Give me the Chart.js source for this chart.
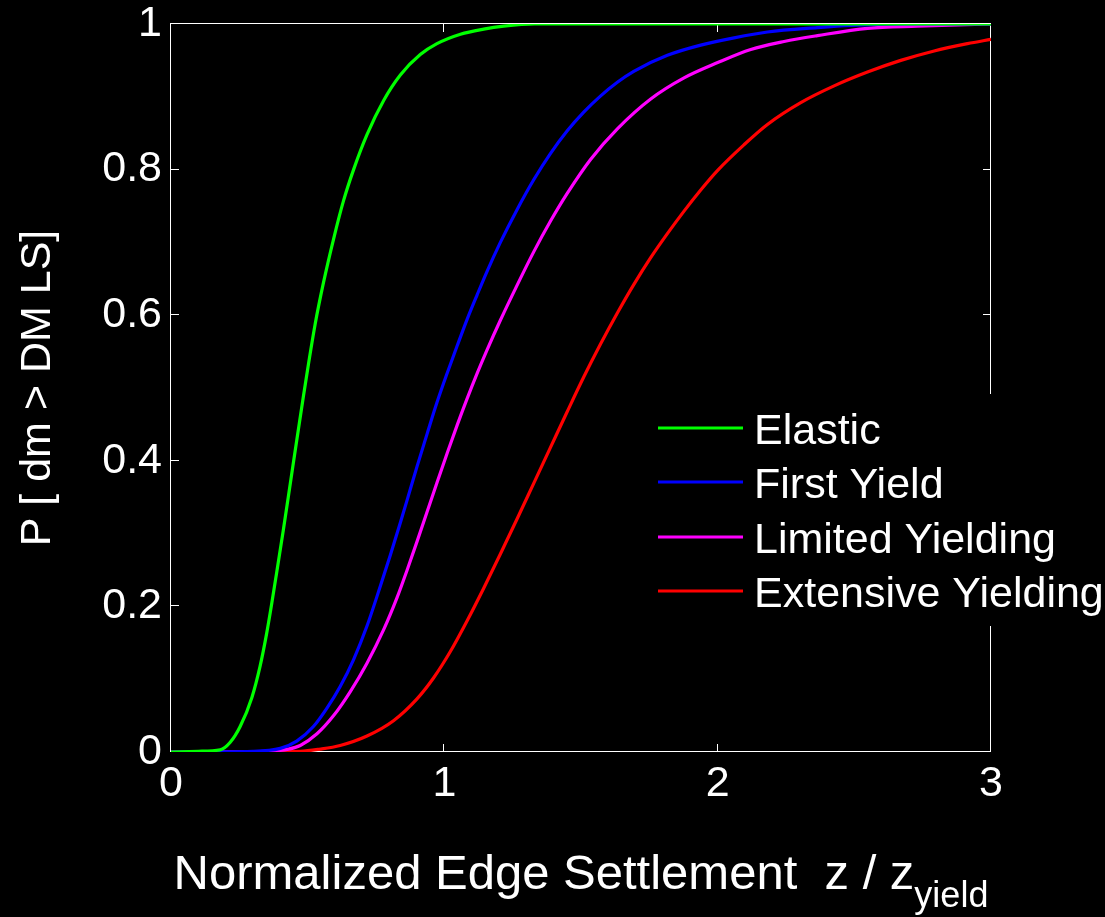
<!DOCTYPE html>
<html>
<head>
<meta charset="utf-8">
<script src="https://cdn.jsdelivr.net/npm/chart.js@4.4.1/dist/chart.umd.min.js"></script>
<style>
  html, body { margin: 0; padding: 0; background: #000; overflow: hidden; }
  #wrap { position: relative; width: 1105px; height: 917px; }
</style>
</head>
<body>
<div id="wrap"><canvas id="c" width="1105" height="917"></canvas></div>
<script>
// Exceedance probability curves for each damage limit state
const seriesNames = ['Elastic', 'First Yield', 'Limited Yielding', 'Extensive Yielding'];
const seriesColors = ['#00ff00', '#0000ff', '#ff00ff', '#ff0000'];

const elasticX = [0, 0.10, 0.18, 0.216, 0.253, 0.296, 0.326, 0.35, 0.369, 0.386, 0.411, 0.429, 0.448, 0.466, 0.485, 0.503, 0.527, 0.558, 0.595, 0.631, 0.668, 0.717, 0.778, 0.839, 0.912, 0.973, 1.059, 1.144, 1.217, 1.33, 3.0];
const elasticY = [0, 0.001, 0.003, 0.013, 0.035, 0.075, 0.118, 0.163, 0.205, 0.245, 0.305, 0.35, 0.398, 0.443, 0.49, 0.533, 0.587, 0.645, 0.705, 0.757, 0.80, 0.848, 0.895, 0.93, 0.958, 0.973, 0.986, 0.993, 0.997, 1.0, 1.0];

const firstYieldX = [0, 0.30, 0.40, 0.46, 0.521, 0.57, 0.619, 0.668, 0.717, 0.766, 0.802, 0.839, 0.863, 0.90, 0.937, 0.973, 1.01, 1.047, 1.083, 1.12, 1.156, 1.205, 1.266, 1.327, 1.388, 1.449, 1.51, 1.571, 1.633, 1.693, 1.816, 1.938, 2.06, 2.182, 2.365, 2.487, 2.73, 3.0];
const firstYieldY = [0, 0.001, 0.005, 0.015, 0.035, 0.06, 0.09, 0.127, 0.173, 0.228, 0.27, 0.315, 0.345, 0.392, 0.437, 0.48, 0.52, 0.558, 0.594, 0.628, 0.66, 0.70, 0.745, 0.786, 0.822, 0.853, 0.879, 0.901, 0.92, 0.935, 0.957, 0.971, 0.981, 0.989, 0.995, 0.998, 1.0, 1.0];

const limitedX = [0, 0.35, 0.43, 0.473, 0.534, 0.595, 0.656, 0.717, 0.778, 0.827, 0.863, 0.90, 0.937, 0.973, 1.01, 1.047, 1.083, 1.12, 1.156, 1.205, 1.266, 1.327, 1.388, 1.449, 1.535, 1.633, 1.755, 1.877, 2.0, 2.121, 2.243, 2.365, 2.548, 2.73, 3.0];
const limitedY = [0, 0.001, 0.004, 0.009, 0.025, 0.05, 0.083, 0.122, 0.168, 0.212, 0.249, 0.289, 0.33, 0.37, 0.41, 0.449, 0.485, 0.52, 0.552, 0.593, 0.641, 0.687, 0.729, 0.767, 0.814, 0.856, 0.897, 0.926, 0.947, 0.965, 0.976, 0.984, 0.994, 0.997, 1.0];

const extensiveX = [0, 0.473, 0.546, 0.619, 0.717, 0.814, 0.90, 0.961, 1.022, 1.083, 1.144, 1.205, 1.266, 1.327, 1.388, 1.449, 1.51, 1.571, 1.633, 1.693, 1.755, 1.816, 1.877, 1.938, 2.0, 2.096, 2.182, 2.304, 2.426, 2.548, 2.67, 2.792, 2.914, 3.0];
const extensiveY = [0, 0.001, 0.004, 0.009, 0.022, 0.043, 0.073, 0.102, 0.138, 0.18, 0.225, 0.272, 0.32, 0.369, 0.418, 0.467, 0.515, 0.56, 0.603, 0.642, 0.679, 0.712, 0.743, 0.772, 0.799, 0.834, 0.862, 0.892, 0.915, 0.934, 0.95, 0.963, 0.973, 0.979];

const xTicks = [0, 1, 2, 3];
const xTickLabels = ['0', '1', '2', '3'];
const yTicks = [0, 0.2, 0.4, 0.6, 0.8, 1];
const yTickLabels = ['0', '0.2', '0.4', '0.6', '0.8', '1'];

const xTitleMain = 'Normalized Edge Settlement  z / z';
const xTitleSub = 'yield';
const yTitle = 'P [ dm > DM LS]';

const FONT = "'Liberation Sans', Arial, Helvetica, sans-serif";

function pairs(xs, ys) { return xs.map((x, i) => ({ x: x, y: ys[i] })); }

const seriesData = [
  pairs(elasticX, elasticY),
  pairs(firstYieldX, firstYieldY),
  pairs(limitedX, limitedY),
  pairs(extensiveX, extensiveY)
];

// Black page background
const backdrop = {
  id: 'backdrop',
  beforeDraw(chart) {
    const ctx = chart.ctx;
    ctx.save();
    ctx.fillStyle = '#000';
    ctx.fillRect(0, 0, chart.width, chart.height);
    ctx.restore();
  }
};

// Box around the axes with inward tick marks on all four sides
const axesBox = {
  id: 'axesBox',
  beforeDatasetsDraw(chart) {
    const { ctx, chartArea: a, scales } = chart;
    const len = 8;
    ctx.save();
    ctx.strokeStyle = '#fff';
    ctx.lineWidth = 1;
    ctx.strokeRect(a.left - 0.5, a.top - 0.5, a.right - a.left, a.bottom - a.top);
    ctx.beginPath();
    xTicks.forEach(v => {
      const px = Math.round(scales.x.getPixelForValue(v)) - 0.5;
      ctx.moveTo(px, a.bottom); ctx.lineTo(px, a.bottom - len);
      ctx.moveTo(px, a.top); ctx.lineTo(px, a.top + len);
    });
    yTicks.forEach(v => {
      const py = Math.round(scales.y.getPixelForValue(v)) - 0.5;
      ctx.moveTo(a.left, py); ctx.lineTo(a.left + len, py);
      ctx.moveTo(a.right, py); ctx.lineTo(a.right - len, py);
    });
    ctx.stroke();
    ctx.restore();
  }
};

// Legend box over the right edge, plus the x-axis title with its subscript
const overlay = {
  id: 'overlay',
  afterDraw(chart) {
    const { ctx, chartArea: a } = chart;
    ctx.save();
    // legend
    ctx.fillStyle = '#000';
    ctx.fillRect(645, 394, 460, 232);
    const rowY = [428, 482, 537, 591];
    ctx.lineWidth = 3;
    ctx.font = '43px ' + FONT;
    ctx.textBaseline = 'alphabetic';
    ctx.textAlign = 'left';
    chart.data.datasets.forEach((ds, i) => {
      ctx.strokeStyle = ds.borderColor;
      ctx.beginPath();
      ctx.moveTo(658, rowY[i]);
      ctx.lineTo(743, rowY[i]);
      ctx.stroke();
      ctx.fillStyle = '#fff';
      ctx.fillText(ds.label, 754, rowY[i] + 16);
    });
    // x-axis title
    const mainFont = '49px ' + FONT;
    const subFont = '36px ' + FONT;
    ctx.font = mainFont;
    const wMain = ctx.measureText(xTitleMain).width;
    ctx.font = subFont;
    const wSub = ctx.measureText(xTitleSub).width;
    const cx = (a.left + a.right) / 2;
    const x0 = cx - (wMain + wSub) / 2;
    ctx.fillStyle = '#fff';
    ctx.font = mainFont;
    ctx.fillText(xTitleMain, x0, 889);
    ctx.font = subFont;
    ctx.fillText(xTitleSub, x0 + wMain, 907);
    ctx.restore();
  }
};

new Chart(document.getElementById('c'), {
  type: 'line',
  data: {
    datasets: seriesNames.map((name, i) => ({
      label: name,
      data: seriesData[i],
      borderColor: seriesColors[i],
      backgroundColor: seriesColors[i],
      borderWidth: 3.2,
      pointRadius: 0,
      fill: false,
      cubicInterpolationMode: 'monotone'
    }))
  },
  options: {
    responsive: false,
    animation: false,
    devicePixelRatio: 1,
    layout: { padding: { top: 24, right: 114, bottom: 0, left: 0 } },
    plugins: {
      legend: { display: false },
      tooltip: { enabled: false }
    },
    scales: {
      x: {
        type: 'linear',
        min: 0,
        max: 3,
        afterBuildTicks: s => { s.ticks = xTicks.map(v => ({ value: v })); },
        ticks: {
          color: '#fff',
          font: { family: FONT, size: 43, lineHeight: 1 },
          padding: 11,
          maxRotation: 0,
          autoSkip: false,
          callback: v => xTickLabels[xTicks.indexOf(v)]
        },
        grid: { display: false, drawTicks: false },
        border: { display: false },
        afterFit: s => { s.height = 165; s.paddingLeft = 0; s.paddingRight = 0; }
      },
      y: {
        type: 'linear',
        min: 0,
        max: 1,
        afterBuildTicks: s => { s.ticks = yTicks.map(v => ({ value: v })); },
        ticks: {
          color: '#fff',
          font: { family: FONT, size: 43, lineHeight: 1 },
          padding: 9,
          autoSkip: false,
          callback: v => yTickLabels[yTicks.indexOf(v)]
        },
        grid: { display: false, drawTicks: false },
        border: { display: false },
        title: {
          display: true,
          text: yTitle,
          color: '#fff',
          font: { family: FONT, size: 43 },
          padding: { top: 12, bottom: 0 }
        },
        afterFit: s => { s.width = 171; s.paddingTop = 0; s.paddingBottom = 0; }
      }
    }
  },
  plugins: [backdrop, axesBox, overlay]
});
</script>
</body>
</html>
